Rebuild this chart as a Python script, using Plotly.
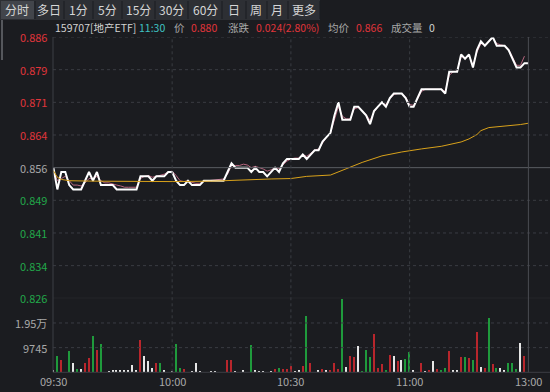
import plotly.graph_objects as go

# ---------------- data ----------------
minutes = list(range(121))
price = [0.856, 0.851, 0.855, 0.855, 0.852, 0.851, 0.851, 0.851, 0.853, 0.855,
         0.853, 0.855, 0.852, 0.852, 0.852, 0.852, 0.851, 0.851, 0.851, 0.851,
         0.851, 0.851, 0.854, 0.854, 0.854, 0.853, 0.854, 0.854, 0.854, 0.855,
         0.855, 0.853, 0.852, 0.852, 0.853, 0.852, 0.852, 0.852, 0.853, 0.853,
         0.853, 0.853, 0.853, 0.853, 0.855, 0.857, 0.856, 0.856, 0.856, 0.856,
         0.855, 0.856, 0.855, 0.855, 0.854, 0.855, 0.856, 0.855, 0.857, 0.858,
         0.858, 0.858, 0.858, 0.859, 0.858, 0.859, 0.860, 0.860, 0.862, 0.863,
         0.864, 0.868, 0.871, 0.867, 0.867, 0.867, 0.870, 0.870, 0.869, 0.868,
         0.866, 0.869, 0.870, 0.871, 0.870, 0.872, 0.873, 0.873, 0.873, 0.872,
         0.870, 0.870, 0.872, 0.874, 0.874, 0.874, 0.874, 0.874, 0.874, 0.873,
         0.878, 0.878, 0.878, 0.882, 0.881, 0.882, 0.879, 0.883, 0.885, 0.884,
         0.885, 0.886, 0.884, 0.884, 0.884, 0.883, 0.881, 0.879, 0.879, 0.880,
         0.880]
smooth_minutes = list(range(120))
smooth_price = [0.8555, 0.8530, 0.8535, 0.8540, 0.8530, 0.8520, 0.8520, 0.8518, 0.8525, 0.8535,
                0.8535, 0.8540, 0.8530, 0.8525, 0.8525, 0.8522, 0.8520, 0.8518, 0.8515, 0.8515,
                0.8515, 0.8515, 0.8535, 0.8540, 0.8542, 0.8538, 0.8540, 0.8542, 0.8545, 0.8550,
                0.8552, 0.8542, 0.8530, 0.8528, 0.8530, 0.8526, 0.8524, 0.8524, 0.8528, 0.8530,
                0.8531, 0.8532, 0.8533, 0.8534, 0.8545, 0.8565, 0.8565, 0.8565, 0.8568, 0.8566,
                0.8560, 0.8563, 0.8560, 0.8557, 0.8552, 0.8555, 0.8560, 0.8558, 0.8566, 0.8575,
                0.8580, 0.8582, 0.8582, 0.8590, 0.8586, 0.8592, 0.8600, 0.8603, 0.8618, 0.8630,
                0.8640, 0.8672, 0.8700, 0.8678, 0.8672, 0.8672, 0.8695, 0.8698, 0.8690, 0.8682,
                0.8668, 0.8688, 0.8700, 0.8708, 0.8705, 0.8718, 0.8728, 0.8730, 0.8730, 0.8722,
                0.8705, 0.8703, 0.8718, 0.8735, 0.8740, 0.8740, 0.8740, 0.8740, 0.8740, 0.8735,
                0.8772, 0.8780, 0.8782, 0.8815, 0.8812, 0.8818, 0.8795, 0.8825, 0.8845, 0.8842,
                0.8848, 0.8858, 0.8845, 0.8842, 0.8840, 0.8832, 0.8815, 0.8795, 0.8795, 0.8816]
avg_minutes = [0, 1, 2, 4, 10, 20, 30, 40, 45, 50, 55, 60, 62, 64, 70, 72, 74, 78, 83,
               88, 93, 98, 103, 105, 107, 108, 110, 113, 116, 118, 120]
avg_price = [0.8553, 0.8538, 0.8533, 0.8530, 0.8529, 0.8528, 0.8528, 0.8529, 0.8531, 0.8533,
             0.8534, 0.8535, 0.8538, 0.8540, 0.8543, 0.8550, 0.8558, 0.8572, 0.8587,
             0.8596, 0.8603, 0.8609, 0.8619, 0.8626, 0.8636, 0.8645, 0.8652, 0.8654, 0.8657,
             0.8659, 0.8662]

vol_minutes = [0, 1, 2, 4, 5, 6, 7, 8, 9, 10, 11, 12, 14, 15, 16, 17, 18, 19, 20, 21,
               22, 23, 24, 25, 26, 27, 28, 30, 31, 32, 33, 35, 36, 37, 40, 41, 44, 45, 46, 48,
               50, 51, 52, 53, 55, 56, 57, 58, 59, 60, 61, 62, 63, 64, 65, 67, 68, 69, 70, 71,
               72, 73, 74, 75, 76, 77, 78, 79, 80, 81, 82, 83, 84, 85, 86, 87, 88, 89, 90, 91,
               93, 94, 95, 96, 97, 98, 99, 100, 101, 102, 103, 104, 105, 106, 107, 108, 109, 110, 111, 112,
               113, 114, 115, 116, 117, 118, 119]
volume = [900, 6200, 4600, 8300, 3700, 1300, 1200, 3700, 5700, 14100, 8800, 11200, 300, 400, 400, 400, 400, 500, 2600, 600,
          12500, 6200, 4200, 1600, 3700, 3700, 700, 300, 10900, 1400, 1200, 300, 3400, 300, 300, 300, 4600, 4600, 300, 700,
          10500, 600, 300, 300, 300, 1300, 1500, 1100, 1100, 2400, 300, 600, 2400, 22000, 3600, 600, 1100, 600, 600, 3600,
          1100, 29000, 2100, 6200, 5900, 10200, 300, 8800, 5900, 14900, 1700, 3300, 600, 6600, 6200, 4200, 4600, 5300, 7900, 600,
          3600, 300, 700, 4200, 1100, 700, 1600, 8200, 700, 800, 5900, 5900, 5500, 4600, 15800, 2000, 1700, 21500, 3000, 1600,
          1600, 700, 3600, 3600, 1100, 11600, 6500]
vol_dir = ["flat", "down", "up", "down", "flat", "down", "flat", "up", "up", "down", "up", "down", "flat", "flat", "flat", "flat", "flat", "flat", "flat", "flat",
           "up", "flat", "flat", "flat", "up", "down", "flat", "flat", "down", "down", "up", "flat", "flat", "flat", "flat", "flat", "up", "up", "flat", "flat",
           "down", "flat", "flat", "flat", "flat", "up", "down", "up", "up", "up", "flat", "flat", "up", "down", "up", "flat", "up", "flat", "up", "up",
           "up", "down", "flat", "up", "up", "flat", "down", "down", "down", "up", "up", "up", "down", "up", "flat", "up", "flat", "down", "down", "flat",
           "up", "flat", "up", "flat", "up", "down", "down", "up", "flat", "flat", "up", "down", "up", "down", "up", "flat", "up", "down", "up", "down",
           "flat", "flat", "down", "down", "down", "flat", "up"]

price_ticks = [0.886, 0.8785, 0.871, 0.8635, 0.856, 0.8485, 0.841, 0.8335, 0.826]
price_tick_text = ["0.886", "0.879", "0.871", "0.864", "0.856", "0.849", "0.841", "0.834", "0.826"]
prev_close = 0.856
vol_ticks = [19490, 9745]
vol_tick_text = ["1.95万", "9745"]
time_ticks = [0, 30, 60, 90, 120]
time_tick_text = ["09:30", "10:00", "10:30", "11:00", "13:00"]

tabs = ["分时", "多日", "1分", "5分", "15分", "30分", "60分", "日", "周", "月", "更多"]

# ---------------- styling / geometry ----------------
W, H = 550, 392
BG = "#1b1c20"
RED = "#e0353b"
GREEN = "#22a84a"
GRAY = "#a8a8a8"
GRID = "#3a3c42"
FONT = "Noto Sans CJK SC, Noto Sans, sans-serif"

def px(xp):
    return xp / W

def py(yp):
    return 1 - yp / H

x_left = 53
px_per_min = 475 / 120
x_range = [0 - 0.1, (W - x_left) / px_per_min - 0.1]
price_top, price_bot = 37, 298.3
vol_top, vol_bot = 298.3, 372.3

fig = go.Figure()

fig.add_trace(go.Scatter(x=smooth_minutes, y=smooth_price, mode="lines",
                         line=dict(color="#b8677f", width=1), xaxis="x", yaxis="y",
                         hoverinfo="skip", showlegend=False))
fig.add_trace(go.Scatter(x=minutes, y=price, mode="lines",
                         line=dict(color="#ffffff", width=2), xaxis="x", yaxis="y",
                         showlegend=False))
fig.add_trace(go.Scatter(x=avg_minutes, y=avg_price, mode="lines",
                         line=dict(color="#d9a21b", width=1), xaxis="x", yaxis="y",
                         showlegend=False))

dir_color = {"up": "#b8262c", "down": "#1f9a3c", "flat": "#e6e6e6"}
fig.add_trace(go.Bar(x=vol_minutes, y=volume, marker=dict(color=[dir_color[d] for d in vol_dir], line=dict(width=0)),
                     width=0.38, xaxis="x2", yaxis="y2", showlegend=False))

shapes = []
# toolbar
shapes.append(dict(type="rect", xref="paper", yref="paper", x0=0, x1=px(320), y0=py(20), y1=1,
                   fillcolor="#2d2f34", line=dict(width=0), layer="below"))
shapes.append(dict(type="rect", xref="paper", yref="paper", x0=px(1), x1=px(34), y0=py(19), y1=py(1),
                   fillcolor="#42454b", line=dict(width=0), layer="below"))
for sx in [35, 64, 93, 122, 155, 188, 222, 246, 267, 288, 320]:
    shapes.append(dict(type="line", xref="paper", yref="paper", x0=px(sx), x1=px(sx), y0=py(19), y1=py(1),
                       line=dict(color="#1b1c20", width=1)))
# left scroll indicator
shapes.append(dict(type="line", xref="paper", yref="paper", x0=px(2), x1=px(2), y0=py(60), y1=py(20),
                   line=dict(color="#55575c", width=2)))
# horizontal price grid
for v in price_ticks:
    if abs(v - prev_close) < 1e-9:
        shapes.append(dict(type="line", xref="paper", yref="y", x0=px(x_left), x1=1, y0=v, y1=v,
                           line=dict(color="#5a5c62", width=1)))
    elif abs(v - 0.826) < 1e-9:
        shapes.append(dict(type="line", xref="paper", yref="y", x0=px(x_left), x1=1, y0=v, y1=v,
                           line=dict(color="#34363b", width=1)))
    else:
        shapes.append(dict(type="line", xref="paper", yref="y", x0=px(x_left), x1=1, y0=v, y1=v,
                           line=dict(color=GRID, width=1, dash="dot")))
for v in vol_ticks:
    shapes.append(dict(type="line", xref="paper", yref="y2", x0=px(x_left), x1=1, y0=v, y1=v,
                       line=dict(color=GRID, width=1, dash="dot")))
# vertical grid
for t in [30, 60, 90]:
    shapes.append(dict(type="line", xref="x", yref="paper", x0=t, x1=t, y0=py(vol_bot), y1=py(price_top),
                       line=dict(color=GRID, width=1, dash="dot")))
shapes.append(dict(type="line", xref="x", yref="paper", x0=120, x1=120, y0=py(vol_bot), y1=py(price_top),
                   line=dict(color="#4a4c52", width=1)))
# left axis line
shapes.append(dict(type="line", xref="paper", yref="paper", x0=px(x_left), x1=px(x_left), y0=py(vol_bot), y1=py(price_top),
                   line=dict(color="#3c3e44", width=1)))
# volume baseline
shapes.append(dict(type="line", xref="paper", yref="paper", x0=px(x_left), x1=1, y0=py(vol_bot), y1=py(vol_bot),
                   line=dict(color="#3c3e44", width=1)))

annotations = []
tab_centers = [17, 49, 78, 107, 138, 171, 205, 234, 256, 277, 304]
for t, cx in zip(tabs, tab_centers):
    annotations.append(dict(text=t, x=px(cx), y=py(10), xref="paper", yref="paper", showarrow=False,
                            xanchor="center", yanchor="middle",
                            font=dict(family=FONT, size=12, color="#d6d6d6")))
info = [("159707[地产ETF]", 53, "#d2d2d2"), ("11:30", 137, "#3fc3c3"), ("价", 172, GRAY),
        ("0.880", 189, RED), ("涨跌", 226, GRAY), ("0.024(2.80%)", 254, RED),
        ("均价", 326, GRAY), ("0.866", 354, RED), ("成交量", 389, GRAY), ("0", 427, "#d2d2d2")]
for t, x0, c in info:
    annotations.append(dict(text=t, x=px(x0), y=py(27.5), xref="paper", yref="paper", showarrow=False,
                            xanchor="left", yanchor="middle",
                            font=dict(family=FONT, size=10.5, color=c)))
for v, t in zip(price_ticks, price_tick_text):
    if v > prev_close + 1e-9:
        c = RED
    elif v < prev_close - 1e-9:
        c = GREEN
    else:
        c = GRAY
    annotations.append(dict(text=t, x=px(49), y=v, xref="paper", yref="y", showarrow=False,
                            xanchor="right", yanchor="middle",
                            font=dict(family=FONT, size=11, color=c)))
for v, t in zip(vol_ticks, vol_tick_text):
    annotations.append(dict(text=t, x=px(49), y=v, xref="paper", yref="y2", showarrow=False,
                            xanchor="right", yanchor="middle",
                            font=dict(family=FONT, size=11, color=GRAY)))
for v, t in zip(time_ticks, time_tick_text):
    annotations.append(dict(text=t, x=v, y=py(381), xref="x2", yref="paper", showarrow=False,
                            xanchor="center", yanchor="middle",
                            font=dict(family=FONT, size=11, color=GRAY)))

fig.update_layout(
    width=W, height=H, margin=dict(l=0, r=0, t=0, b=0),
    paper_bgcolor=BG, plot_bgcolor=BG,
    showlegend=False, bargap=0,
    xaxis=dict(domain=[px(x_left), 1], range=x_range, showgrid=False, zeroline=False,
               showticklabels=False, anchor="y", fixedrange=True),
    xaxis2=dict(domain=[px(x_left), 1], range=x_range, showgrid=False, zeroline=False,
                showticklabels=False, anchor="y2", matches="x"),
    yaxis=dict(domain=[py(price_bot), py(price_top)], range=[0.826, 0.886], showgrid=False,
               zeroline=False, showticklabels=False),
    yaxis2=dict(domain=[py(vol_bot), py(vol_top)], range=[0, 29235], showgrid=False,
                zeroline=False, showticklabels=False),
    shapes=shapes, annotations=annotations,
)

fig.write_html("out.html", config={"displayModeBar": False},
               post_script="document.body.style.margin='0';document.body.style.overflow='hidden';"
                           "document.body.style.background='#1b1c20';")
